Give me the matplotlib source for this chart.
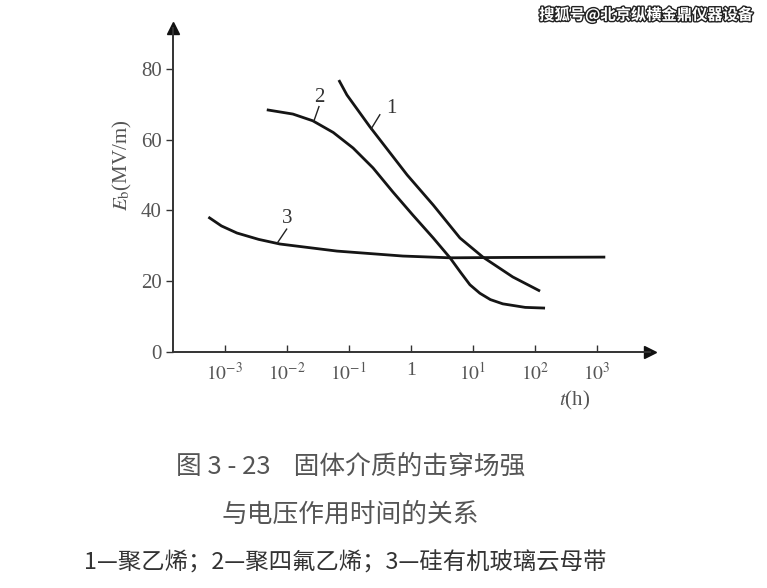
import matplotlib
matplotlib.use('Agg')
from matplotlib import pyplot as plt
import matplotlib.patheffects as pe
import numpy as np

# values (log10 of t in hours, Eb in MV/m)
t1_log = [-1.16, -1.03, -0.66, -0.06, 0.36, 0.79, 1.16, 1.64, 2.08]
e1 = [76.8, 72.6, 63.6, 50.0, 41.5, 32.2, 26.8, 21.2, 17.2]

t2_log = [-2.32, -1.90, -1.58, -1.25, -0.93, -0.61, -0.29, 0.03, 0.36, 0.63,
          0.80, 0.95, 1.11, 1.28, 1.48, 1.84, 2.16]
e2 = [68.4, 67.2, 65.3, 62.0, 57.6, 52.0, 45.2, 38.7, 32.2, 26.6,
      22.5, 19.0, 16.6, 14.8, 13.6, 12.6, 12.4]

t3_log = [-3.26, -3.05, -2.80, -2.45, -2.11, -1.19, -0.13, 0.63, 1.50, 3.13]
e3 = [38.1, 35.6, 33.6, 31.8, 30.5, 28.5, 27.1, 26.6, 26.7, 26.8]

xticks = [1e-3, 1e-2, 1e-1, 1, 1e1, 1e2, 1e3]
xticklabels = ['$10^{-3}$', '$10^{-2}$', '$10^{-1}$', '1', '$10^{1}$', '$10^{2}$', '$10^{3}$']
yticks = [0, 20, 40, 60, 80]

plt.rcParams['font.family'] = ['Liberation Serif', 'DejaVu Serif']
plt.rcParams['mathtext.fontset'] = 'stix'

grey = '#555555'
fig = plt.figure(figsize=(7.67, 5.88), dpi=100)
ax = fig.add_axes([173/767, 1-352/588, (650-173)/767, (352-28)/588])
ax.set_xscale('log')
ax.set_xlim(10**-3.83, 10**3.85)
ax.set_ylim(0, 91.5)

for tl, e in [(t1_log, e1), (t2_log, e2), (t3_log, e3)]:
    ax.plot(10**np.array(tl), e, color='#151515', lw=2.0, solid_capstyle='butt')

# curve labels with leader strokes
ax.plot([10**-0.64, 10**-0.50], [63.0, 67.0], color='#222', lw=1.0)
ax.text(10**-0.40, 67.5, '1', fontsize=15, color='#333')
ax.plot([10**-1.56, 10**-1.48], [65.3, 69.3], color='#222', lw=1.0)
ax.text(10**-1.55, 70.5, '2', fontsize=15, color='#333')
ax.plot([10**-2.15, 10**-2.00], [30.8, 34.7], color='#222', lw=1.0)
ax.text(10**-2.07, 36.5, '3', fontsize=15, color='#333')

for s in ['top', 'right']:
    ax.spines[s].set_visible(False)
for s in ['left', 'bottom']:
    ax.spines[s].set_color('#333')
    ax.spines[s].set_linewidth(1.4)
ax.plot(1, 0, '>', color='#111', ms=9, transform=ax.transAxes, clip_on=False)
ax.plot(0, 1, '^', color='#111', ms=9, transform=ax.transAxes, clip_on=False)

ax.set_xticks(xticks)
ax.set_xticklabels(xticklabels)
ax.xaxis.set_minor_locator(matplotlib.ticker.NullLocator())
ax.tick_params(axis='x', direction='in', length=5, width=1.0, colors='#333',
               labelcolor=grey, labelsize=14, pad=7)
ax.set_yticks(yticks)
ax.tick_params(axis='y', direction='out', length=5, width=1.0, colors='#333',
               labelcolor=grey, labelsize=15, pad=3)

fig.text(122/767, 1-165/588, '$E_{\\rm b}$(MV/m)', rotation=90, fontsize=15,
         color=grey, ha='center', va='center')
fig.text(575/767, 1-400/588, '$t$(h)', fontsize=15, color=grey, ha='center', va='center')

cjk = ['Noto Sans CJK SC', 'DejaVu Sans']
fig.text(351/767, 1-467/588, '图 3 - 23    固体介质的击穿场强', fontsize=18.5,
         color=grey, ha='center', va='center', family=cjk)
fig.text(350/767, 1-515/588, '与电压作用时间的关系', fontsize=18.5,
         color=grey, ha='center', va='center', family=cjk)
fig.text(345/767, 1-563/588, '1—聚乙烯；2—聚四氟乙烯；3—硅有机玻璃云母带', fontsize=16.8,
         color='#333', ha='center', va='center', family=cjk)

wm = fig.text(646/767, 1-15/588, '搜狐号@北京纵横金鼎仪器设备', fontsize=11,
              color='white', ha='center', va='center', family=cjk, weight='bold')
wm.set_path_effects([pe.withStroke(linewidth=2, foreground='#222')])

fig.savefig('out.png', dpi=100)
